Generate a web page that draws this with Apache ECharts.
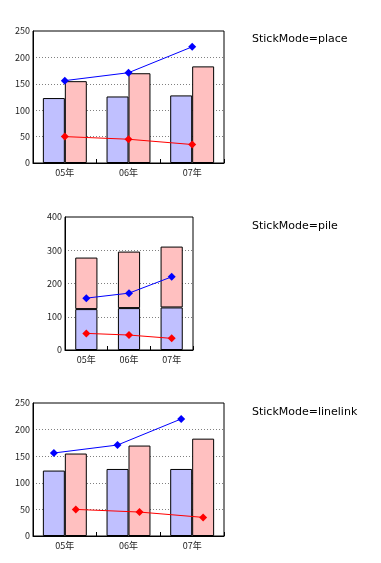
<!DOCTYPE html>
<html><head><meta charset="utf-8">
<script src="https://cdn.jsdelivr.net/npm/echarts@6/dist/echarts.min.js"></script>
<style>html,body{margin:0;padding:0;background:#fff}#c{width:381px;height:563px}</style>
</head><body><div id="c"></div>
<script>
var categories = ['05年', '06年', '07年'];
var barBlue = [123, 126, 128];
var barPink = [155, 170, 183];
var barBlueLinelink = [123, 126, 126];
var lineBlue = [156, 171, 220];
var lineRed = [50, 45, 35];
var modeTitles = ['StickMode=place', 'StickMode=pile', 'StickMode=linelink'];
var yMax = [250, 400, 250];
var yStep = [50, 100, 50];

var FONT = '"Noto Sans CJK JP", sans-serif';
var BLUE_FILL = '#c0c0ff', PINK_FILL = '#ffc0c0';
var grids = [
  {left: 33, top: 31, width: 191, height: 132},
  {left: 65, top: 217, width: 128, height: 133},
  {left: 33, top: 403, width: 191, height: 133}
];
var titleTops = [34, 221, 407];

var option = {
  animation: false,
  backgroundColor: '#fff',
  title: modeTitles.map(function (t, i) {
    return {text: t, left: 252, top: titleTops[i], padding: 0,
      textStyle: {fontSize: 11, fontWeight: 'normal', color: '#000', fontFamily: '"DejaVu Sans", sans-serif'}};
  }),
  grid: grids.map(function (g) {
    return Object.assign({show: true, borderColor: '#000', borderWidth: 1, backgroundColor: '#fff'}, g);
  }),
  xAxis: [],
  yAxis: [],
  series: []
};

for (var i = 0; i < 3; i++) {
  option.xAxis.push({
    type: 'category', gridIndex: i, data: categories, boundaryGap: true,
    axisLine: {show: true, onZero: false, lineStyle: {color: '#000', width: 1}},
    axisTick: {show: true, inside: true, length: 4, lineStyle: {color: '#000'}},
    axisLabel: {fontSize: 9, color: '#222', margin: 5, fontFamily: FONT},
    splitLine: {show: false}
  });
  option.yAxis.push({
    type: 'value', gridIndex: i, min: 0, max: yMax[i], interval: yStep[i],
    axisLine: {show: true, onZero: false, lineStyle: {color: '#000', width: 1}},
    axisTick: {show: false},
    axisLabel: {fontSize: 9, color: '#222', margin: 3, fontFamily: FONT},
    splitLine: {show: true, lineStyle: {color: '#808080', type: [1, 2], width: 1}}
  });
}
// hidden value x-axis for linelink chart
option.xAxis.push({
  type: 'value', gridIndex: 2, min: -0.5, max: 2.5, show: false,
  axisLine: {show: false, onZero: false}, splitLine: {show: false}
});

var barStyle = function (c) { return {color: c, borderColor: '#000', borderWidth: 1}; };
var lineSer = function (name, data, color, xi, yi) {
  return {type: 'line', name: name, data: data, xAxisIndex: xi, yAxisIndex: yi,
    symbol: 'diamond', symbolSize: 8, z: 5,
    lineStyle: {color: color, width: 1}, itemStyle: {color: color}};
};

// Chart 1: place
option.series.push({type: 'bar', data: barBlue, xAxisIndex: 0, yAxisIndex: 0, barGap: '0%', barCategoryGap: '31%', itemStyle: barStyle(BLUE_FILL)});
option.series.push({type: 'bar', data: barPink, xAxisIndex: 0, yAxisIndex: 0, barGap: '0%', barCategoryGap: '31%', itemStyle: barStyle(PINK_FILL)});
option.series.push(lineSer('a', lineBlue, '#0000ff', 0, 0));
option.series.push(lineSer('b', lineRed, '#ff0000', 0, 0));

// Chart 2: pile
option.series.push({type: 'bar', data: barBlue, stack: 'pile', xAxisIndex: 1, yAxisIndex: 1, barCategoryGap: '48%', itemStyle: barStyle(BLUE_FILL)});
option.series.push({type: 'bar', data: barPink, stack: 'pile', xAxisIndex: 1, yAxisIndex: 1, barCategoryGap: '48%', itemStyle: barStyle(PINK_FILL)});
option.series.push(lineSer('c', lineBlue, '#0000ff', 1, 1));
option.series.push(lineSer('d', lineRed, '#ff0000', 1, 1));

// Chart 3: linelink (line points at each bar's centre)
var catGap = 0.31;
var half = (1 - catGap) / 4;
option.series.push({type: 'bar', data: barBlueLinelink, xAxisIndex: 2, yAxisIndex: 2, barGap: '0%', barCategoryGap: (catGap * 100) + '%', itemStyle: barStyle(BLUE_FILL)});
option.series.push({type: 'bar', data: barPink, xAxisIndex: 2, yAxisIndex: 2, barGap: '0%', barCategoryGap: (catGap * 100) + '%', itemStyle: barStyle(PINK_FILL)});
option.series.push(lineSer('e', lineBlue.map(function (v, k) { return [k - half, v]; }), '#0000ff', 3, 2));
option.series.push(lineSer('f', lineRed.map(function (v, k) { return [k + half, v]; }), '#ff0000', 3, 2));

var chart = echarts.init(document.getElementById('c'), null, {renderer: 'canvas'});
chart.setOption(option);
</script>
</body></html>
